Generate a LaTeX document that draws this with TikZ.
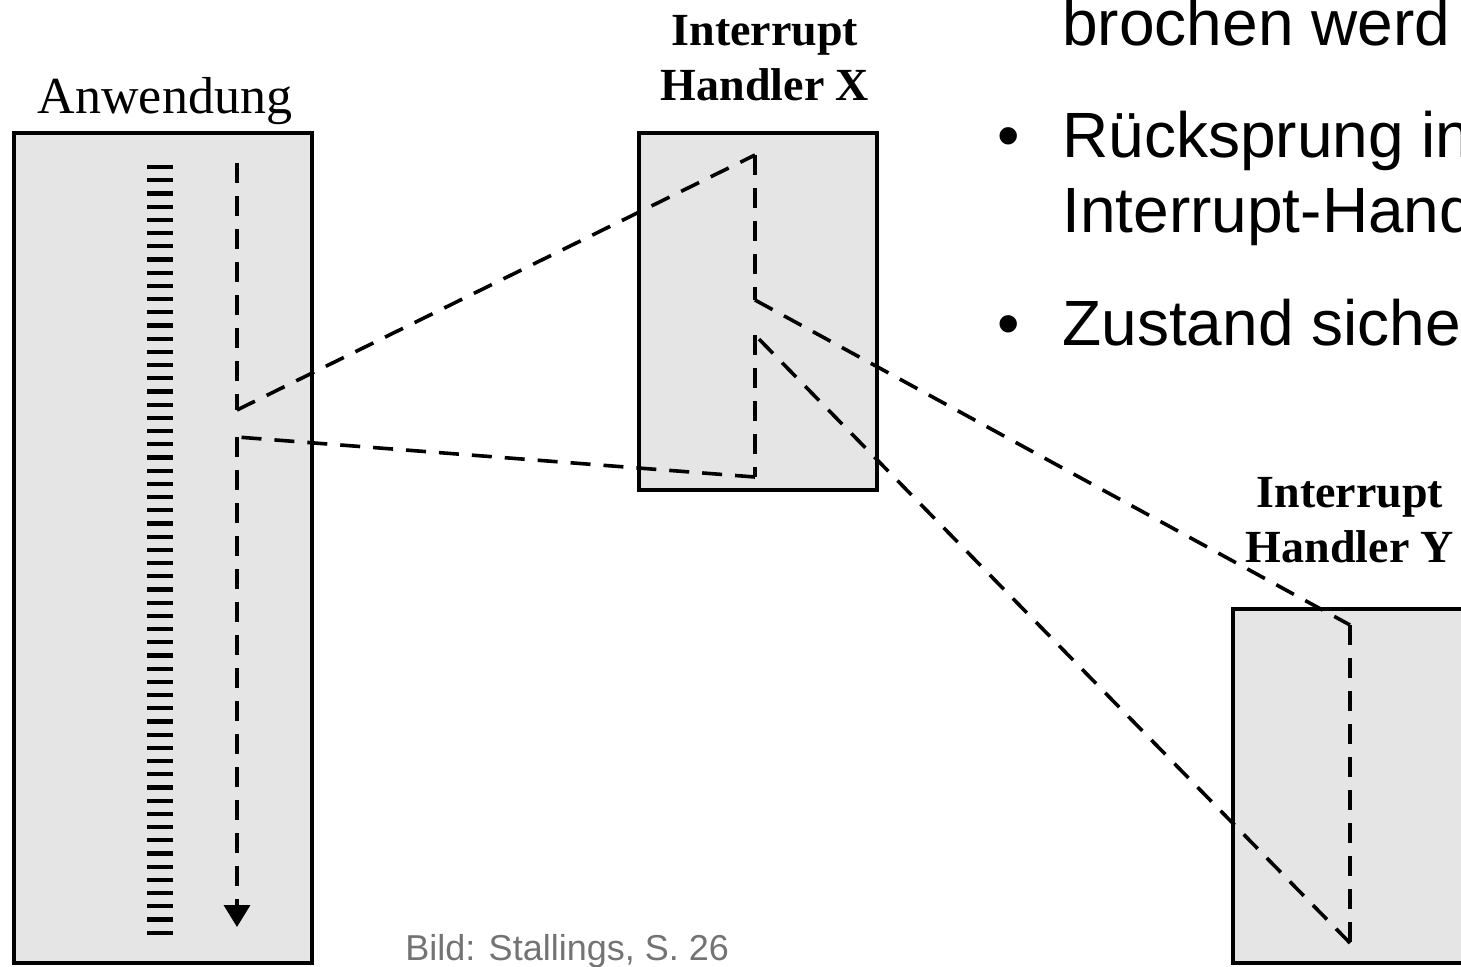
\documentclass[tikz,border=0pt]{standalone}
\usepackage{fontspec}
\setmainfont{Liberation Serif}
\newfontfamily\arialfont{Liberation Sans}
\usetikzlibrary{arrows.meta}

\tikzset{
  box/.style={draw, line width=2pt, fill=black!10, inner sep=0pt},
  flow/.style={line width=1.8pt, dash pattern=on 10pt off 6.5pt},
  tick/.style={line width=2.1pt},
  handler/.style={font=\fontsize{23}{27.5}\selectfont\bfseries, align=center, inner sep=0pt},
  bullettext/.style={font=\arialfont\fontsize{32}{37.5}\selectfont, anchor=base west, inner sep=0pt}
}

\begin{document}
\begin{tikzpicture}[x=0.5pt, y=-0.5pt]
		\useasboundingbox (0,0) rectangle (1461,966);
		\clip (0,0) rectangle (1461,966);
		% the three program blocks
		\node[box, minimum width=149pt, minimum height=415pt] (app) at (163,548) {};
		\node[box, minimum width=119pt, minimum height=178.5pt] (hx) at (758,311.5) {};
		\node[box, minimum width=119pt, minimum height=177pt] (hy) at (1352,786) {};
		%
		\node[font=\fontsize{26}{31}\selectfont, anchor=base, inner sep=0pt] (applabel) at (165,113) {Anwendung};
		\node[handler, anchor=base] (hxlabel) at (765,100) {Interrupt\\Handler X};
		\node[handler, anchor=base] (hylabel) at (1350,562) {Interrupt\\Handler Y};
		%
		% instruction ticks of the application
		\foreach \i in {0,...,58}
			\draw[tick] (147,{167+\i*13.2}) -- (173,{167+\i*13.2});
		%
		% control flow
		\coordinate (a0) at (237,163);
		\coordinate (a1) at (237,410);
		\coordinate (x0) at (755,155);
		\coordinate (x1) at (755,300);
		\coordinate (y0) at (1350,625);
		\coordinate (y1) at (1350,943);
		\coordinate (x2) at (755,335);
		\coordinate (x3) at (755,477);
		\coordinate (a2) at (237,437);
		\coordinate (a3) at (237,927);
		\path[flow]
		(a0) edge (a1)
		(a1) edge (x0)
		(x0) edge (x1)
		(x1) edge (y0)
		(y0) edge (y1)
		(y1) edge (x2)
		(x2) edge (x3)
		(x3) edge (a2)
		(a2) edge[-{Triangle[width=13pt,length=11pt]}] (a3);
		%
		% slide text
		\node[bullettext] (l1) at (1062,45) {brochen werd};
		\node[bullettext] (b2) at (997,157) {•};
		\node[bullettext] (l2) at (1062,157) {Rücksprung in};
		\node[bullettext] (l3) at (1062,232) {Interrupt-Handler};
		\node[bullettext] (b3) at (997,345) {•};
		\node[bullettext] (l4) at (1062,345) {Zustand sichern};
		\node[bullettext, font=\arialfont\fontsize{18}{21}\selectfont, text=black!55] (src) at (405,960) {Bild: Stallings, S. 26};
		\end{tikzpicture}
\end{document}
